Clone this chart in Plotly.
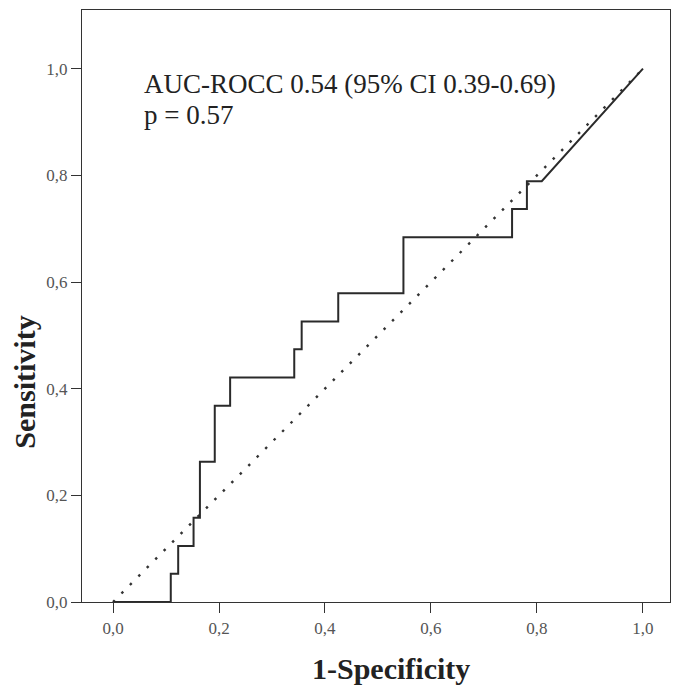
import plotly.graph_objects as go

# ROC curve points (1-Specificity, Sensitivity)
fpr = [0.0, 0.109, 0.109, 0.123, 0.123, 0.152, 0.152, 0.164, 0.164, 0.192, 0.192,
       0.221, 0.221, 0.342, 0.342, 0.356, 0.356, 0.425, 0.425, 0.548, 0.548,
       0.753, 0.753, 0.781, 0.781, 0.809, 1.0]
tpr = [0.0, 0.0, 0.053, 0.053, 0.105, 0.105, 0.158, 0.158, 0.263, 0.263, 0.368,
       0.368, 0.421, 0.421, 0.474, 0.474, 0.526, 0.526, 0.579, 0.579, 0.684,
       0.684, 0.737, 0.737, 0.789, 0.789, 1.0]
ref_x = [0.0, 1.0]
ref_y = [0.0, 1.0]

tick_vals = [0.0, 0.2, 0.4, 0.6, 0.8, 1.0]
tick_text = ["0,0", "0,2", "0,4", "0,6", "0,8", "1,0"]

serif = "Liberation Serif, Times New Roman, serif"

fig = go.Figure()
fig.add_trace(go.Scatter(x=ref_x, y=ref_y, mode="lines",
                         line=dict(color="#333333", width=2.4, dash="2.5px,9.5px"),
                         showlegend=False, hoverinfo="skip"))
fig.add_trace(go.Scatter(x=fpr, y=tpr, mode="lines",
                         line=dict(color="#2a2a2a", width=2),
                         showlegend=False))

fig.add_annotation(x=0.054, y=0.972, xref="x", yref="y", xanchor="left", yanchor="middle",
                   text="AUC-ROCC 0.54 (95% CI 0.39-0.69)", showarrow=False,
                   font=dict(family=serif, size=27, color="#222222"))
fig.add_annotation(x=0.054, y=0.913, xref="x", yref="y", xanchor="left", yanchor="middle",
                   text="p = 0.57", showarrow=False,
                   font=dict(family=serif, size=27, color="#222222"))

# axis titles placed as annotations to match reference positions
fig.add_annotation(x=0.5245, y=-0.112, xref="x", yref="paper", xanchor="center", yanchor="middle",
                   text="<b>1-Specificity</b>", showarrow=False,
                   font=dict(family=serif, size=30, color="#222222"))
fig.add_annotation(x=-0.097, y=0.413, xref="paper", yref="y", xanchor="center", yanchor="middle",
                   text="<b>Sensitivity</b>", showarrow=False, textangle=-90,
                   font=dict(family=serif, size=30, color="#222222"))

axis_common = dict(
    showgrid=False, zeroline=False, showline=True, linecolor="#333333", linewidth=1.3,
    mirror=True, ticks="outside", ticklen=10, tickwidth=1.3, tickcolor="#333333",
    tickvals=tick_vals, ticktext=tick_text,
    tickfont=dict(family=serif, size=17, color="#555555"),
)

fig.update_xaxes(range=[-0.0585, 1.051], **axis_common)
fig.update_yaxes(range=[0.0, 1.11], **axis_common)

# page body has an 8px margin; compensate so the plot area lands at the reference spot
fig.update_layout(width=669, height=677, margin=dict(l=74, r=7, t=2, b=83),
                  paper_bgcolor="white", plot_bgcolor="white")

fig.write_html("out.html")
